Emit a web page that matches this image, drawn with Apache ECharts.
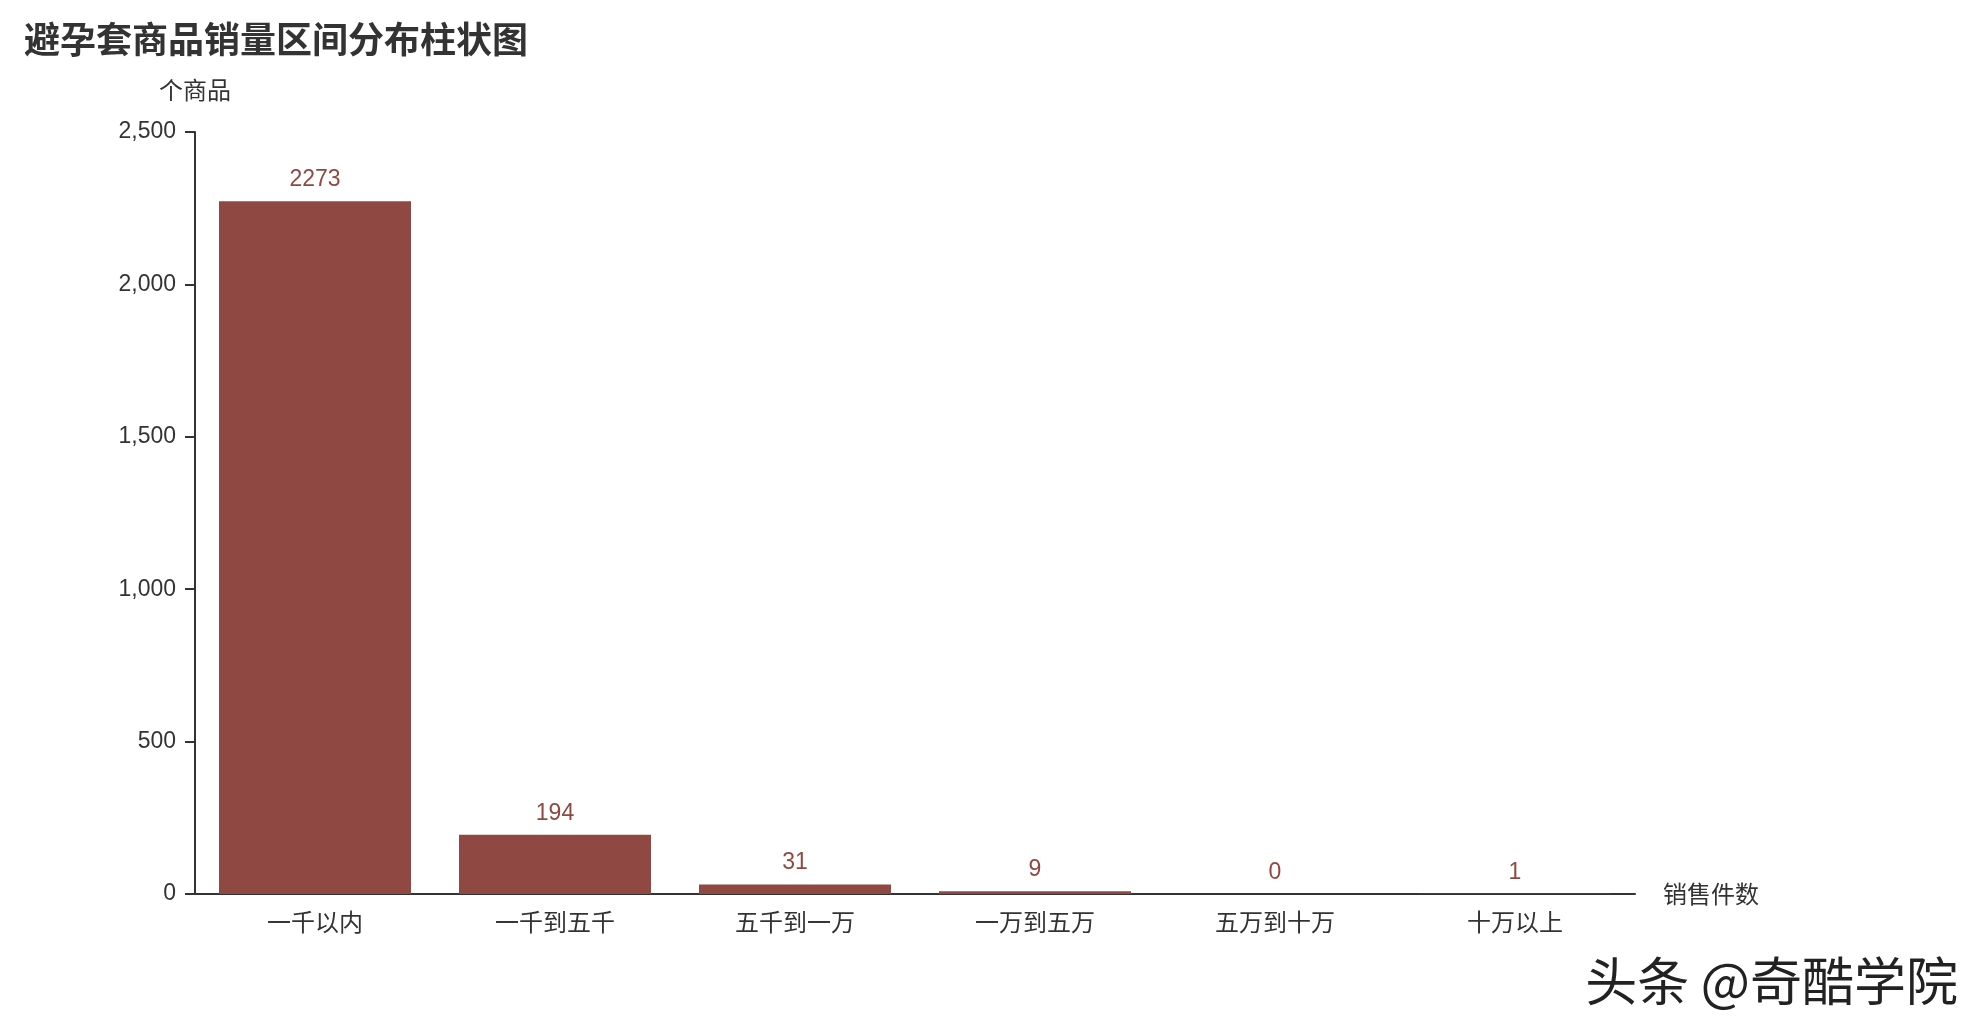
<html>
<head>
    <meta charset="utf-8">
    <script src="https://cdn.jsdelivr.net/npm/echarts@6/dist/echarts.min.js"></script>
    <style>
        html, body { margin: 0; padding: 0; background: #fff; }
        #main { width: 1986px; height: 1036px; }
    </style>
</head>
<body>
    <div id="main"></div>
    <script>
        // 数据
        var categories = ['一千以内', '一千到五千', '五千到一万', '一万到五万', '五万到十万', '十万以上'];
        var counts = [2273, 194, 31, 9, 0, 1];
        var yTicks = [0, 500, 1000, 1500, 2000, 2500];

        // 数字用 Liberation Sans（接近 Helvetica），中文回落到 Noto Sans CJK
        var font = '"Liberation Sans", "Noto Sans CJK SC", sans-serif';
        var cjkFont = '"Noto Sans CJK SC", sans-serif';
        var barColor = '#904843';
        var textColor = '#333';

        var myChart = echarts.init(document.getElementById('main'));

        var option = {
            backgroundColor: '#fff',
            title: {
                text: '避孕套商品销量区间分布柱状图',
                left: 19,
                top: 16,
                textStyle: { fontSize: 36, fontWeight: 'bold', color: textColor, fontFamily: cjkFont }
            },
            grid: { left: 195, right: 351, top: 132, bottom: 142, containLabel: false },
            xAxis: {
                type: 'category',
                data: categories,
                name: '销售件数',
                nameGap: 28,
                nameTextStyle: { fontSize: 24, color: textColor, fontFamily: cjkFont },
                axisLine: { lineStyle: { color: textColor, width: 2 } },
                axisTick: { length: 10, lineStyle: { width: 2 } },
                axisLabel: { fontSize: 24, color: textColor, margin: 16, fontFamily: cjkFont },
                splitLine: { show: false }
            },
            yAxis: {
                type: 'value',
                min: yTicks[0],
                max: yTicks[yTicks.length - 1],
                interval: yTicks[1] - yTicks[0],
                name: '个商品',
                nameGap: 30,
                nameTextStyle: { fontSize: 24, color: textColor, fontFamily: cjkFont },
                axisLine: { show: true, lineStyle: { color: textColor, width: 2 } },
                axisTick: { show: true, length: 10, lineStyle: { width: 2 } },
                axisLabel: { fontSize: 23, color: textColor, margin: 19, fontFamily: font },
                splitLine: { show: false }
            },
            series: [{
                name: '商品数',
                type: 'bar',
                data: counts,
                barCategoryGap: '20%',
                itemStyle: { color: barColor },
                label: {
                    show: true,
                    position: 'top',
                    distance: 10,
                    color: barColor,
                    fontSize: 23,
                    fontFamily: font
                }
            }],
            graphic: [{
                type: 'text',
                right: 28,
                top: 955,
                style: {
                    text: '头条 @奇酷学院',
                    fontSize: 52,
                    fontFamily: cjkFont,
                    fill: '#222'
                }
            }]
        };

        myChart.setOption(option);
    </script>
</body>
</html>
